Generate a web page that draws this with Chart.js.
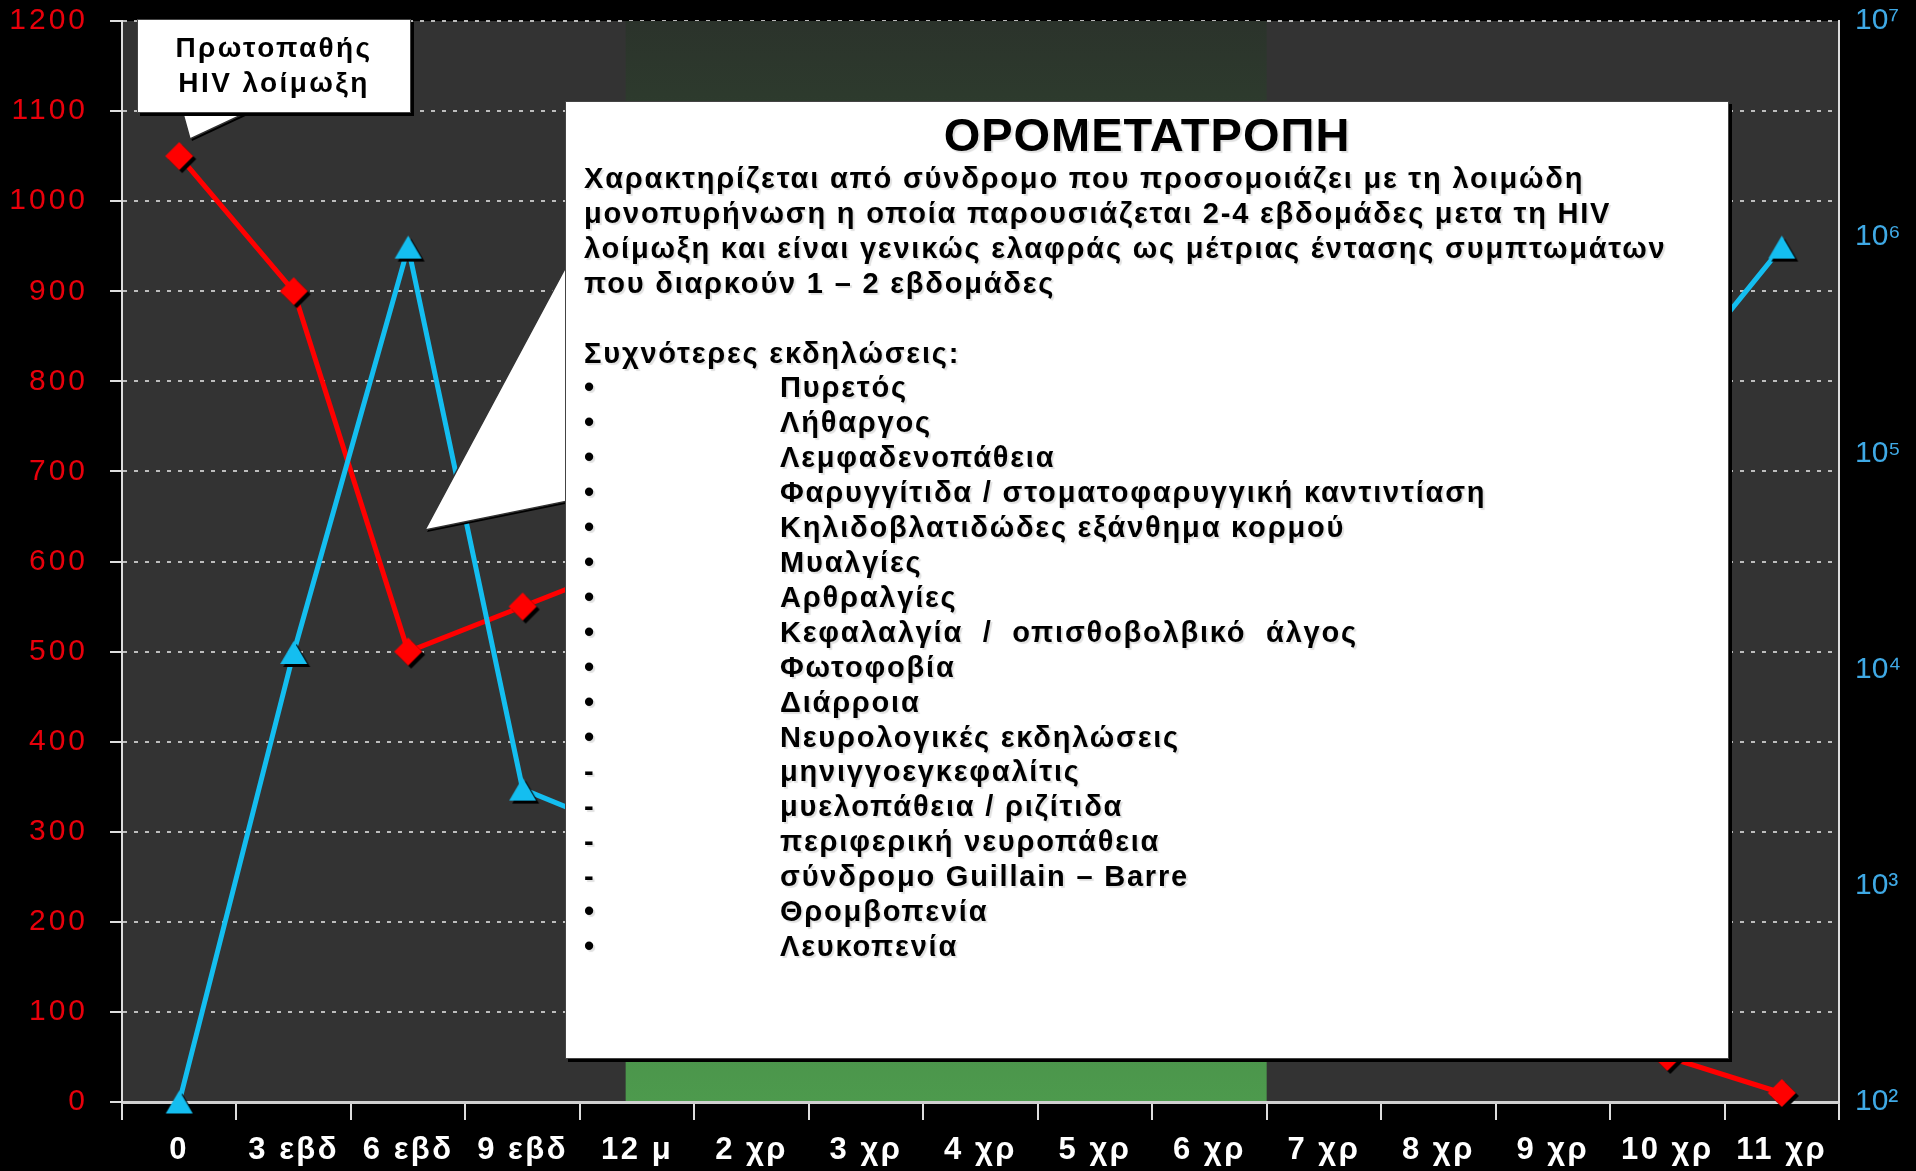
<!DOCTYPE html>
<html>
<head>
<meta charset="utf-8">
<script src="https://cdn.jsdelivr.net/npm/chart.js@4.4.1/dist/chart.umd.min.js"></script>
<style>
  body { margin: 0; background: #000; overflow: hidden; }
  #wrap { position: relative; width: 1916px; height: 1171px; }
  .note {
    position: absolute; box-sizing: border-box; background: #fff;
    border: 1px solid #444; box-shadow: 3px 3px 0 #000;
    font-family: 'Liberation Sans', Arial, sans-serif; font-weight: bold; color: #000;
  }
  #note1 {
    left: 137px; top: 19px; width: 274px; height: 94px;
    font-size: 28px; letter-spacing: 2.4px; line-height: 35px;
    text-align: center; padding-top: 10px;
  }
  #note2 {
    left: 565px; top: 101px; width: 1164px; height: 958px;
    padding-left: 18px; font-size: 29px; letter-spacing: 1.8px; line-height: 34.9px;
    white-space: pre;
  }
  #note2 .title { font-size: 47px; letter-spacing: 1px; line-height: 48px; text-align: center; margin-top: 9px; margin-left: -18px; }
  #note2 .para { margin-top: 2px; }
  #note2 .row { display: flex; }
  #note2 .row span:first-child { width: 196px; }
  #note2 div { text-shadow: 2px 2px 1px rgba(0,0,0,0.12); }
</style>
</head>
<body>
<div id="wrap">
  <canvas id="chart" width="1916" height="1171"></canvas>
  <div class="note" id="note1">Πρωτοπαθής<br>HIV λοίμωξη</div>
  <div class="note" id="note2"><div class="title">ΟΡΟΜΕΤΑΤΡΟΠΗ</div><div class="para" id="para"></div></div>
</div>
<script>
// time points
const labels = ['0', '3 εβδ', '6 εβδ', '9 εβδ', '12 μ', '2 χρ', '3 χρ', '4 χρ', '5 χρ', '6 χρ', '7 χρ', '8 χρ', '9 χρ', '10 χρ', '11 χρ'];
// CD4 cells (left axis)
const cd4 = [1050, 900, 500, 550, 600, 550, 500, 450, 400, 350, 300, 250, 150, 50, 10];
// viral load (right axis, log)
const viralLoad = [100, 12000, 900000, 2800, 1700, 2000, 2500, 3000, 4000, 6000, 10000, 20000, 50000, 200000, 900000];
// seroconversion period, as category positions
const bandFrom = 3.9;
const bandTo = 9.5;

const paraLines = [
  'Χαρακτηρίζεται από σύνδρομο που προσομοιάζει με τη λοιμώδη',
  'μονοπυρήνωση η οποία παρουσιάζεται 2-4 εβδομάδες μετα τη HIV',
  'λοίμωξη και είναι γενικώς ελαφράς ως μέτριας έντασης συμπτωμάτων',
  'που διαρκούν 1 – 2 εβδομάδες',
  '',
  'Συχνότερες εκδηλώσεις:'
];
const symptoms = [
  ['•', 'Πυρετός'], ['•', 'Λήθαργος'], ['•', 'Λεμφαδενοπάθεια'],
  ['•', 'Φαρυγγίτιδα / στοματοφαρυγγική καντιντίαση'],
  ['•', 'Κηλιδοβλατιδώδες εξάνθημα κορμού'], ['•', 'Μυαλγίες'], ['•', 'Αρθραλγίες'],
  ['•', 'Κεφαλαλγία  /  οπισθοβολβικό  άλγος'], ['•', 'Φωτοφοβία'], ['•', 'Διάρροια'],
  ['•', 'Νευρολογικές εκδηλώσεις'], ['-', 'μηνιγγοεγκεφαλίτις'], ['-', 'μυελοπάθεια / ριζίτιδα'],
  ['-', 'περιφερική νευροπάθεια'], ['-', 'σύνδρομο Guillain – Barre'],
  ['•', 'Θρομβοπενία'], ['•', 'Λευκοπενία']
];

let para = document.getElementById('para');
let html = paraLines.map(l => '<div>' + (l || ' ') + '</div>').join('');
html += symptoms.map(s => '<div class="row"><span>' + s[0] + '</span><span>' + s[1] + '</span></div>').join('');
para.innerHTML = html;

// marker pictures with a hard black shadow
function diamond(r, color) {
  let c = document.createElement('canvas');
  c.width = c.height = 2 * r + 8;
  let g = c.getContext('2d'), m = c.width / 2;
  let draw = (x, y, col) => {
    g.fillStyle = col; g.beginPath();
    g.moveTo(x, y - r); g.lineTo(x + r, y); g.lineTo(x, y + r); g.lineTo(x - r, y);
    g.closePath(); g.fill();
  };
  draw(m + 3, m + 3, '#000');
  draw(m, m, color);
  return c;
}
function triangle(w, h, color) {
  let c = document.createElement('canvas');
  c.width = w + 8; c.height = h + 8;
  let g = c.getContext('2d'), mx = c.width / 2, my = c.height / 2;
  let draw = (x, y, col) => {
    g.fillStyle = col; g.beginPath();
    g.moveTo(x, y - h / 2); g.lineTo(x + w / 2, y + h / 2); g.lineTo(x - w / 2, y + h / 2);
    g.closePath(); g.fill();
  };
  draw(mx + 3, my + 3, '#000');
  draw(mx, my, color);
  return c;
}

const RED = '#ff0000';
const BLUE = '#14bef0';
const sup = {2: '²', 3: '³', 4: '⁴', 5: '⁵', 6: '⁶', 7: '⁷'};

const spacing = {x: '2.5px', y: '3px', y2: '0px'};

const backdrop = {
  id: 'backdrop',
  afterLayout(chart) {
    for (const id in spacing) {
      const s = chart.scales[id];
      if (s && !s._spaced) {
        const orig = s.drawLabels;
        s.drawLabels = function (a) {
          chart.ctx.save();
          chart.ctx.letterSpacing = spacing[id];
          orig.call(this, a);
          chart.ctx.restore();
        };
        s._spaced = true;
      }
    }
  },
  beforeDraw(chart) {
    const {ctx, chartArea: a} = chart;
    ctx.save();
    ctx.fillStyle = '#000';
    ctx.fillRect(0, 0, chart.width, chart.height);
    ctx.fillStyle = '#333333';
    ctx.fillRect(a.left, a.top, a.right - a.left, a.bottom - a.top);
    ctx.restore();
  },
  beforeDatasetsDraw(chart) {
    const {ctx, chartArea: a, scales} = chart;
    const x0 = scales.x.getPixelForValue(bandFrom);
    const x1 = scales.x.getPixelForValue(bandTo);
    const grad = ctx.createLinearGradient(0, a.top, 0, a.bottom);
    grad.addColorStop(0, '#2b332b');
    grad.addColorStop(0.5, '#3a663a');
    grad.addColorStop(1, '#4d9a4d');
    ctx.save();
    ctx.fillStyle = grad;
    ctx.fillRect(x0, a.top, x1 - x0, a.bottom - a.top - 1);
    ctx.restore();
  },
  afterDatasetsDraw(chart) {
    const ctx = chart.ctx;
    const tails = [
      [[568, 263], [425, 530], [568, 501]],
      [[182, 110], [190, 139], [252, 110]]
    ];
    ctx.save();
    for (const t of tails) {
      ctx.beginPath();
      ctx.moveTo(t[0][0], t[0][1]);
      ctx.lineTo(t[1][0], t[1][1]);
      ctx.lineTo(t[2][0], t[2][1]);
      ctx.closePath();
      ctx.shadowColor = '#000';
      ctx.shadowOffsetX = 2;
      ctx.shadowOffsetY = 2;
      ctx.fillStyle = '#fff';
      ctx.fill();
      ctx.shadowColor = 'transparent';
      ctx.strokeStyle = '#333';
      ctx.lineWidth = 1.5;
      ctx.stroke();
    }
    ctx.restore();
  }
};

let ctx = document.getElementById('chart').getContext('2d');
let myChart = new Chart(ctx, {
  type: 'line',
  data: {
    labels: labels,
    datasets: [{
      label: 'Ιικό φορτίο',
      data: viralLoad,
      yAxisID: 'y2',
      borderColor: BLUE,
      borderWidth: 5,
      pointStyle: triangle(27, 23, BLUE),
      pointRadius: 14,
      tension: 0,
      clip: false
    }, {
      label: 'CD4',
      data: cd4,
      yAxisID: 'y',
      borderColor: RED,
      borderWidth: 5,
      pointStyle: diamond(14, RED),
      pointRadius: 14,
      tension: 0,
      clip: false
    }]
  },
  options: {
    responsive: false,
    animation: false,
    devicePixelRatio: 1,
    events: [],
    layout: {padding: {top: 21, left: 0, right: 0, bottom: 0}},
    plugins: {legend: {display: false}, tooltip: {enabled: false}},
    scales: {
      x: {
        type: 'category',
        offset: true,
        afterFit: s => { s.height = 69; s.paddingLeft = 0; s.paddingRight = 0; },
        grid: {offset: true, drawOnChartArea: false, drawTicks: true, tickLength: 18, color: '#dddddd', lineWidth: 2},
        border: {display: true, color: '#cfcfcf', width: 3},
        ticks: {
          color: '#ffffff', padding: 12, autoSkip: false, maxRotation: 0,
          font: {family: "'Liberation Sans', Arial, sans-serif", size: 31, weight: 'bold'}
        }
      },
      y: {
        position: 'left',
        min: 0, max: 1200,
        afterFit: s => { s.width = 122; s.paddingTop = 0; s.paddingBottom = 0; },
        grid: {color: 'rgba(205,205,205,0.9)', lineWidth: 2, tickLength: 12, tickColor: '#dddddd', tickBorderDash: []},
        border: {display: true, color: '#dddddd', width: 2, dash: [4, 7]},
        ticks: {
          stepSize: 100, color: '#e8000b', padding: 22,
          font: {family: "'Liberation Sans', Arial, sans-serif", size: 30},
          callback: v => String(v)
        }
      },
      y2: {
        type: 'logarithmic',
        position: 'right',
        min: 100, max: 10000000,
        afterFit: s => { s.width = 77; s.paddingTop = 0; s.paddingBottom = 0; },
        afterBuildTicks: s => { s.ticks = [2, 3, 4, 5, 6, 7].map(p => ({value: Math.pow(10, p)})); },
        grid: {drawOnChartArea: false, drawTicks: false},
        border: {display: true, color: '#dddddd', width: 2},
        ticks: {
          color: '#3fa9e5', padding: 16,
          font: {family: "'Liberation Sans', Arial, sans-serif", size: 30},
          callback: v => '10' + sup[Math.round(Math.log10(v))]
        }
      }
    }
  },
  plugins: [backdrop]
});
</script>
</body>
</html>
